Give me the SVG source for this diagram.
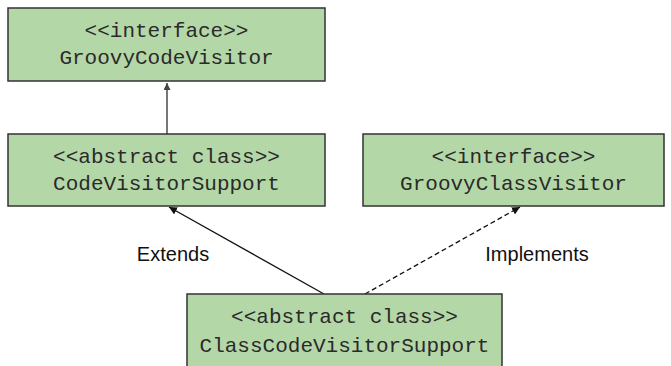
<svg xmlns="http://www.w3.org/2000/svg" width="671" height="366" viewBox="0 0 671 366">
<style>
.box{fill:#b4d7a8;stroke:#333;stroke-width:1.5}
.mono{font-family:"Liberation Mono","Courier New",monospace;font-size:21px;fill:#2a2a2a;text-anchor:middle}
.lbl{font-family:"Liberation Sans",Arial,sans-serif;font-size:20px;fill:#111;text-anchor:middle}
.edge{fill:none;stroke:#111;stroke-width:1.3}
</style>
<defs>
<marker id="ah" viewBox="0 0 10 10" refX="10" refY="5" markerWidth="8" markerHeight="8" markerUnits="userSpaceOnUse" orient="auto">
<path d="M0,0 L10,5 L0,10 z" fill="#111"/>
</marker>
<marker id="ahg" viewBox="0 0 10 10" refX="10" refY="5" markerWidth="7" markerHeight="7" markerUnits="userSpaceOnUse" orient="auto">
<path d="M0,0 L10,5 L0,10 z" fill="#444"/>
</marker>
</defs>
<g id="connectors">
<line class="edge" x1="167" y1="134" x2="167" y2="83" style="stroke:#555;stroke-width:1.6" marker-end="url(#ahg)"/>
<line class="edge" x1="324" y1="294" x2="169" y2="207" marker-end="url(#ah)"/>
<line class="edge" x1="365" y1="294" x2="520" y2="207" stroke-dasharray="5,3" marker-end="url(#ah)"/>
<text class="lbl" x="173" y="261">Extends</text>
<text class="lbl" x="537" y="261">Implements</text>
</g>
<g id="groovyCodeVisitor">
<rect class="box" x="8" y="8" width="317" height="73"/>
<text class="mono" x="166.5" y="37">&lt;&lt;interface&gt;&gt;</text>
<text class="mono" x="166.5" y="64">GroovyCodeVisitor</text>
</g>
<g id="codeVisitorSupport">
<rect class="box" x="8" y="134" width="317" height="72"/>
<text class="mono" x="166.5" y="163">&lt;&lt;abstract class&gt;&gt;</text>
<text class="mono" x="166.5" y="190">CodeVisitorSupport</text>
</g>
<g id="groovyClassVisitor">
<rect class="box" x="363" y="134" width="301" height="72"/>
<text class="mono" x="513.5" y="163">&lt;&lt;interface&gt;&gt;</text>
<text class="mono" x="513.5" y="190">GroovyClassVisitor</text>
</g>
<g id="classCodeVisitorSupport">
<rect class="box" x="187" y="294" width="315" height="80"/>
<text class="mono" x="344.5" y="323">&lt;&lt;abstract class&gt;&gt;</text>
<text class="mono" x="344.5" y="352">ClassCodeVisitorSupport</text>
</g>
</svg>
